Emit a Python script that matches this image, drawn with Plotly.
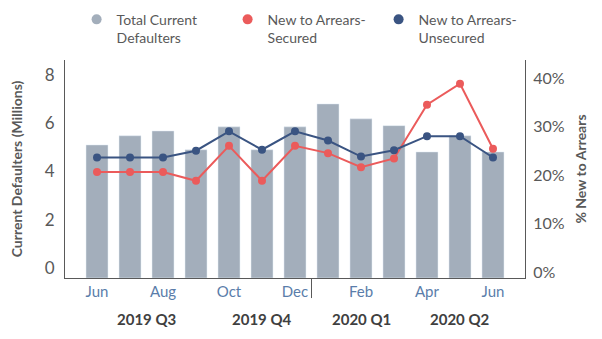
import plotly.graph_objects as go

# ---- data ----
months = ["Jun", "Jul", "Aug", "Sep", "Oct", "Nov", "Dec",
          "Jan", "Feb", "Mar", "Apr", "May", "Jun"]
total_defaulters = [5.10, 5.48, 5.68, 4.90, 5.85, 4.90, 5.85,
                    6.80, 6.18, 5.90, 4.81, 5.48, 4.81]          # millions
secured_pct = [20.6, 20.6, 20.6, 18.8, 26.0, 18.8, 26.0,
               24.5, 21.6, 23.4, 34.5, 38.8, 25.4]              # %
unsecured_pct = [23.6, 23.6, 23.6, 25.0, 29.0, 25.2, 29.0,
                 27.1, 23.8, 25.1, 28.0, 28.0, 23.6]            # %
quarters = ["2019 Q3", "2019 Q4", "2020 Q1", "2020 Q2"]
quarter_first = [0, 4, 7, 10]
quarter_last = [3, 6, 9, 12]
series_names = ["Total Current<br>Defaulters", "New to Arrears-<br>Secured",
                "New to Arrears-<br>Unsecured"]

# ---- style ----
FONT = "Lato"
C_BAR = "#a3aebb"
C_RED = "#eb5b5b"
C_NAVY = "#3a5482"
C_TXT = "#595959"
C_XTICK = "#5a7daa"
C_AXIS = "#595959"

Y1MIN, Y1MAX = -0.415, 8.62
Y2MIN, Y2MAX = -0.0124, 0.437

x = list(range(len(months)))

fig = go.Figure()
fig.add_trace(go.Bar(
    x=x, y=[v - Y1MIN for v in total_defaulters], base=Y1MIN,
    customdata=total_defaulters, hovertemplate="%{customdata}M<extra></extra>",
    marker_color=C_BAR, width=0.667, showlegend=False, name="Total Current Defaulters"))
fig.add_trace(go.Scatter(
    x=x, y=[v / 100 for v in secured_pct], yaxis="y2", mode="lines+markers",
    line=dict(color=C_RED, width=2), marker=dict(color=C_RED, size=8),
    showlegend=False, name="New to Arrears-Secured"))
fig.add_trace(go.Scatter(
    x=x, y=[v / 100 for v in unsecured_pct], yaxis="y2", mode="lines+markers",
    line=dict(color=C_NAVY, width=2), marker=dict(color=C_NAVY, size=8),
    showlegend=False, name="New to Arrears-Unsecured"))

# legend entries (dots only)
for name, col in zip(series_names, [C_BAR, C_RED, C_NAVY]):
    fig.add_trace(go.Scatter(x=[None], y=[None], mode="markers", name=name,
                             marker=dict(color=col, size=10), showlegend=True))

# quarter labels
for q, a, b in zip(quarters, quarter_first, quarter_last):
    fig.add_annotation(x=(a + b) / 2, y=-0.19, xref="x", yref="paper",
                       text="<b>%s</b>" % q, showarrow=False, yanchor="middle",
                       font=dict(family=FONT, size=15, color="#404040"))

# year separator tick
fig.add_shape(type="line", xref="x", yref="paper", x0=6.5, x1=6.5, y0=0, y1=-0.092,
              line=dict(color=C_AXIS, width=1))

fig.update_layout(
    width=602, height=339,
    margin=dict(l=65, r=77, t=60, b=61, autoexpand=False),
    paper_bgcolor="white", plot_bgcolor="white",
    font=dict(family=FONT, size=15, color=C_TXT),
    bargap=0.33,
    legend=dict(orientation="h", x=1.01, xanchor="right",
                y=1.258, yanchor="top",
                valign="top", entrywidth=106,
                font=dict(family=FONT, size=14, color=C_TXT)),
    xaxis=dict(range=[-0.97, 12.97], tickmode="array",
               tickvals=x[::2], ticktext=months[::2],
               tickfont=dict(family=FONT, size=15, color=C_XTICK),
               showline=True, linecolor=C_AXIS, linewidth=1,
               showgrid=False, zeroline=False, ticks=""),
    yaxis=dict(range=[Y1MIN, Y1MAX], tickvals=[0, 2, 4, 6, 8],
               showline=True, linecolor=C_AXIS, linewidth=1,
               showgrid=False, zeroline=False, ticks="", ticklabelstandoff=6,
               tickfont=dict(family=FONT, size=17, color=C_TXT),
               title=dict(text="<b>Current Defaulters (Millions)</b>",
                          font=dict(family=FONT, size=14, color=C_TXT), standoff=18)),
    yaxis2=dict(range=[Y2MIN, Y2MAX], overlaying="y", side="right",
                tickvals=[0, 0.1, 0.2, 0.3, 0.4], tickformat=".0%",
                showline=True, linecolor=C_AXIS, linewidth=1,
                showgrid=False, zeroline=False, ticks="", ticklabelstandoff=4,
                tickfont=dict(family=FONT, size=16, color=C_TXT),
                title=dict(text="<b>% New to Arrears</b>",
                           font=dict(family=FONT, size=14, color=C_TXT), standoff=12)),
)

fig.write_html("out.html")
